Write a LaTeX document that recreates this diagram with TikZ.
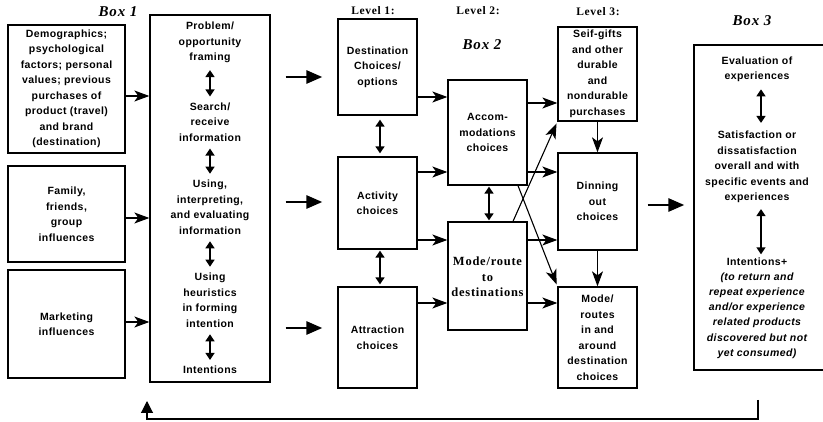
\documentclass[tikz,border=0pt]{standalone}
\usepackage{fontspec}
\setmainfont{Liberation Sans}[LetterSpace=4]
\newfontfamily\seriffont{Liberation Serif}[LetterSpace=6]
\usetikzlibrary{arrows.meta}
\begin{document}
\begin{tikzpicture}[x=1pt,y=-1pt,
  box/.style={draw, line width=1.3pt, inner sep=0pt},
  txt/.style={align=center, inner sep=0pt, font=\bfseries\fontsize{10.5}{15.5}\selectfont},
  lbl/.style={inner sep=0pt, font=\seriffont\bfseries\itshape\fontsize{15}{17}\selectfont},
  lvl/.style={inner sep=0pt, font=\seriffont\bfseries\fontsize{11.5}{13}\selectfont},
  arr/.style={line width=1.1pt, -{Stealth[length=15pt,width=11pt,inset=4pt]}},
  thk/.style={line width=2.8pt, -{Triangle[length=16pt,width=13pt]}},
  dbl/.style={line width=1.5pt, {Triangle[length=7pt,width=9pt]}-{Triangle[length=7pt,width=9pt]}}
]
\useasboundingbox (0,0) rectangle (823,422);

% labels
\node[lbl] (b1) at (118,12) {Box 1};
\node[lbl] (b2) at (482,45) {Box 2};
\node[lbl] (b3) at (752,21) {Box 3};
\node[lvl] (l1) at (373,11) {Level 1:};
\node[lvl] (l2) at (478,11) {Level 2:};
\node[lvl] (l3) at (598,12) {Level 3:};

% Box 1 left boxes
\node[box, minimum width=117pt, minimum height=128pt] (demo) at (66.5,89) {};
\node[txt] (demot) at (66.5,89) {Demographics;\\psychological\\factors; personal\\values; previous\\purchases of\\product (travel)\\and brand\\(destination)};
\node[box, minimum width=117pt, minimum height=96pt] (fam) at (66.5,214) {};
\node[txt] (famt) at (66.5,214) {Family,\\friends,\\group\\influences};
\node[box, minimum width=117pt, minimum height=108pt] (mkt) at (66.5,324) {};
\node[txt] (mktt) at (66.5,324) {Marketing\\influences};

% process box
\node[box, minimum width=120pt, minimum height=367pt] (proc) at (210,198.5) {};
\node[txt] (p1) at (210,42.5) {Problem/\\opportunity\\framing};
\node[txt] (p2) at (210,122) {Search/\\receive\\information};
\node[txt] (p3) at (210,207) {Using,\\interpreting,\\and evaluating\\information};
\node[txt] (p4) at (210,300) {Using\\heuristics\\in forming\\intention};
\node[txt] (p5) at (210,370) {Intentions};
\draw[dbl, shorten <=7pt, shorten >=6pt] (p1) -- (p2);
\draw[dbl, shorten <=7pt, shorten >=6pt] (p2) -- (p3);
\draw[dbl, shorten <=7pt, shorten >=6pt] (p3) -- (p4);
\draw[dbl, shorten <=7pt, shorten >=6pt] (p4) -- (p5);

% Level 1
\node[box, minimum width=79pt, minimum height=96pt] (dest) at (377.5,67) {};
\node[txt] (destt) at (377.5,67) {Destination\\Choices/\\options};
\node[box, minimum width=79pt, minimum height=92pt] (act) at (377.5,203) {};
\node[txt] (actt) at (377.5,203) {Activity\\choices};
\node[box, minimum width=79pt, minimum height=101pt] (attr) at (377.5,337.5) {};
\node[txt] (attrt) at (377.5,337.5) {Attraction\\choices};

% Level 2
\node[box, minimum width=79pt, minimum height=105pt] (acc) at (487.5,132.5) {};
\node[txt] (acct) at (487.5,132.5) {Accom-\\modations\\choices};
\node[box, minimum width=79pt, minimum height=108pt] (mode) at (487.5,276) {};
\node[align=center, inner sep=0pt, font=\seriffont\bfseries\fontsize{12.5}{15.5}\selectfont] (modet) at (487.5,277) {Mode/route\\to\\destinations};

% Level 3
\node[box, minimum width=79pt, minimum height=94pt] (gift) at (597.5,74) {};
\node[txt] (giftt) at (597.5,74) {Seif-gifts\\and other\\durable\\and\\nondurable\\purchases};
\node[box, minimum width=79pt, minimum height=97pt] (dinn) at (597.5,201.5) {};
\node[txt] (dinnt) at (597.5,201.5) {Dinning\\out\\choices};
\node[box, minimum width=79pt, minimum height=101pt] (mr) at (597.5,337.5) {};
\node[txt] (mrt) at (597.5,337.5) {Mode/\\routes\\in and\\around\\destination\\choices};

% Box 3
\node[box, minimum width=140pt, minimum height=325pt] (box3) at (764,207.5) {};
\node[txt] (e1) at (757,69.5) {Evaluation of\\experiences};
\node[txt] (e2) at (757,167) {Satisfaction or\\dissatisfaction\\overall and with\\specific events and\\experiences};
\node[txt, font=\bfseries\fontsize{10.5}{15.2}\selectfont] (e3) at (757,308) {Intentions+\\\itshape (to return and\\\itshape repeat experience\\\itshape and/or experience\\\itshape related  products\\\itshape discovered but not\\\itshape yet consumed)};
\draw[dbl, shorten <=7pt, shorten >=8pt] (e1.south -| 761,0) -- (e2.north -| 761,0);
\draw[dbl, shorten <=6pt, shorten >=3pt] (e2.south -| 761,0) -- (e3.north -| 761,0);

% Box1 arrows
\draw[arr] (demo.east |- 0,96) -- (proc.west |- 0,96);
\draw[arr] (fam.east |- 0,218) -- (proc.west |- 0,218);
\draw[arr] (mkt.east |- 0,322) -- (proc.west |- 0,322);

% thick arrows
\draw[thk, shorten <=15pt, shorten >=15pt] (proc.east |- 0,77) -- (dest.west |- 0,77);
\draw[thk, shorten <=15pt, shorten >=15pt] (proc.east |- 0,202) -- (act.west |- 0,202);
\draw[thk, shorten <=15pt, shorten >=15pt] (proc.east |- 0,328) -- (attr.west |- 0,328);
\draw[thk, shorten <=10pt, shorten >=9pt] (dinn.east |- 0,205) -- (box3.west |- 0,205);

% level arrows
\draw[dbl, shorten <=4pt, shorten >=3pt] (dest.south -| 380,0) -- (act.north -| 380,0);
\draw[dbl, shorten <=1pt, shorten >=2pt] (act.south -| 380,0) -- (attr.north -| 380,0);
\draw[dbl, shorten <=1pt, shorten >=1pt] (acc.south -| 489,0) -- (mode.north -| 489,0);

\draw[arr] (dest.east |- 0,97) -- (acc.west |- 0,97);
\draw[arr] (act.east |- 0,172) -- (acc.west |- 0,172);
\draw[arr] (act.east |- 0,240) -- (mode.west |- 0,240);
\draw[arr] (attr.east |- 0,303) -- (mode.west |- 0,303);
\draw[arr] (acc.east |- 0,103) -- (gift.west |- 0,103);
\draw[arr] (acc.east |- 0,172) -- (dinn.west |- 0,172);
\draw[arr] (mode.east |- 0,240) -- (dinn.west |- 0,240);
\draw[arr] (mode.east |- 0,303) -- (mr.west |- 0,303);
\draw[arr, shorten >=2pt] (mode.north -| 513,0) -- (gift.south west);
\draw[arr, shorten >=2pt] (acc.south -| 518,0) -- (mr.north west);
\draw[arr] (gift) -- (dinn);
\draw[arr] (dinn) -- (mr);

% feedback
\coordinate (fa) at (758,400);
\coordinate (fb) at (758,419);
\coordinate (fc) at (147,419);
\coordinate (fd) at (147,401);
\draw[line width=1.1pt, -{Triangle[length=12pt,width=12pt]}] (fa) -- (fb) -- (fc) -- (fd);
\end{tikzpicture}
\end{document}
